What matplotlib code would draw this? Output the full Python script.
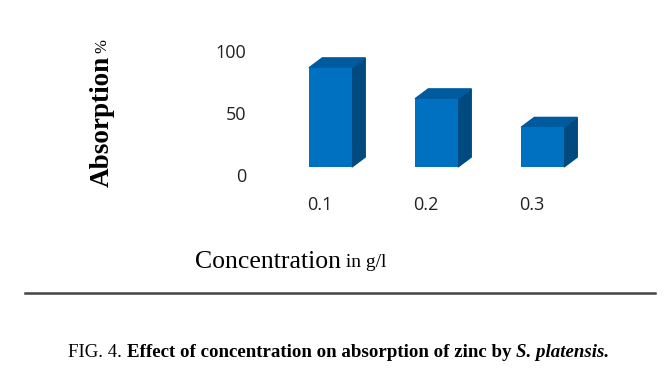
import numpy as np
import matplotlib.pyplot as plt
from matplotlib.patches import Polygon
import matplotlib.transforms as mtransforms

# Veriler
kategoriler = ['0.1', '0.2', '0.3']
absorpsiyon = [80, 55, 32]
y_tikler = [0, 50, 100]

W, H = 670, 380
fig = plt.figure(figsize=(W / 100, H / 100), dpi=100)

# eksen piksel konumları (üstten ölçülmüş)
sol, sag, ust, alt = 260, 600, 43, 167
ax = fig.add_axes([sol / W, (H - alt) / H, (sag - sol) / W, (alt - ust) / H])
ax.set_xlim(-0.665, 2.542)
ax.set_ylim(0, 100)

x = np.arange(len(kategoriler))
genislik = 0.405
dx, dy = 0.125, 8.0   # derinlik (veri birimi)

on_renk = '#0070C0'
yan_renk = '#004A80'
ust_renk = '#005A9E'

ax.bar(x, absorpsiyon, width=genislik, color=on_renk, zorder=3)
for xi, v in zip(x, absorpsiyon):
    x0, x1 = xi - genislik / 2, xi + genislik / 2
    yan = Polygon([(x1, 0), (x1 + dx, dy), (x1 + dx, v + dy), (x1, v)],
                  closed=True, color=yan_renk, zorder=2, clip_on=False)
    ust_p = Polygon([(x0, v), (x0 + dx, v + dy), (x1 + dx, v + dy), (x1, v)],
                    closed=True, color=ust_renk, zorder=2, clip_on=False)
    ax.add_patch(yan)
    ax.add_patch(ust_p)

for s in ax.spines.values():
    s.set_visible(False)
ax.tick_params(length=0)
ax.set_xticks(x)
ax.set_xticklabels(kategoriler, fontsize=13, family='Open Sans', color='#222222')
ax.set_yticks(y_tikler)
ax.set_yticklabels([str(t) for t in y_tikler], fontsize=13, family='Open Sans', color='#222222')
ax.tick_params(axis='x', pad=21)
ax.tick_params(axis='y', pad=10)

# etiketleri Excel'deki gibi biraz kaydır
off_x = mtransforms.ScaledTranslation(-11 / 100, 0, fig.dpi_scale_trans)
for lbl in ax.get_xticklabels():
    lbl.set_transform(lbl.get_transform() + off_x)
off_y = mtransforms.ScaledTranslation(0, -8 / 100, fig.dpi_scale_trans)
for lbl in ax.get_yticklabels():
    lbl.set_transform(lbl.get_transform() + off_y)

# eksen başlıkları
yl = fig.text(102 / W, 1 - 187 / H, 'Absorption', rotation=90, ha='center', va='bottom',
              family='Liberation Serif', fontweight='bold', fontsize=19.5)
plt.annotate('%', xy=(0.5, 1), xycoords=yl, xytext=(0, 2), textcoords='offset points',
             rotation=90, ha='center', va='bottom', family='Liberation Serif', fontsize=12)

xl = fig.text(195 / W, 1 - 268 / H, 'Concentration', ha='left', va='baseline',
              family='Liberation Serif', fontsize=18.5)
plt.annotate(' in g/l', xy=(1, 0), xycoords=xl, xytext=(0, 4), textcoords='offset points',
             ha='left', va='baseline', family='Liberation Serif', fontsize=14)

# ayırıcı çizgi
fig.add_artist(plt.Line2D([25 / W, 655 / W], [1 - 293 / H, 1 - 293 / H],
                          color='#444444', linewidth=1.8))

# şekil yazısı
c1 = fig.text(68 / W, 1 - 357 / H, 'FIG. 4. ', ha='left', va='baseline',
              family='Liberation Serif', fontsize=13.6)
c2 = plt.annotate('Effect of concentration on absorption of zinc by ', xy=(1, 0), xycoords=c1,
                  ha='left', va='bottom', family='Liberation Serif', fontsize=13.6,
                  fontweight='bold')
plt.annotate('S. platensis.', xy=(1, 0), xycoords=c2, ha='left', va='bottom',
             family='Liberation Serif', fontsize=13.6, fontweight='bold', style='italic')

fig.savefig('out.png', dpi=100)
